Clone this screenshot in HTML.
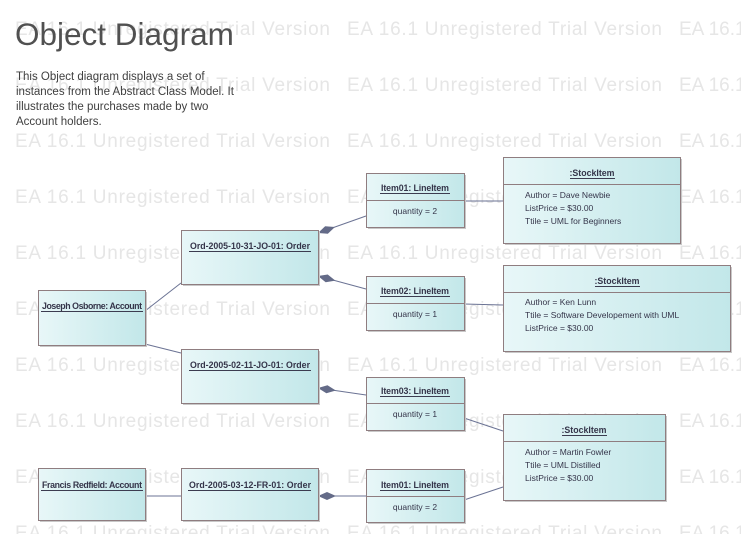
<!DOCTYPE html>
<html><head><meta charset="utf-8"><style>
html,body{margin:0;padding:0;background:#fff;}
svg{display:block;}
.wm{font:19px "Liberation Sans",sans-serif;fill:#e6e6e6;}
.t{font:bold 8.8px "Liberation Sans",sans-serif;fill:#35354a;}
.a{font:8.5px "Liberation Sans",sans-serif;fill:#35354a;}
.b{fill:url(#g);stroke:#8f7d80;stroke-width:1;}
.s{fill:#c8c8c8;}
.l{stroke:#6b7394;stroke-width:1;fill:none;}
.d{fill:#646b88;}
</style></head><body>
<svg width="741" height="534" viewBox="0 0 741 534" xmlns="http://www.w3.org/2000/svg">
<defs><linearGradient id="g" x1="0" x2="1" y1="0" y2="0"><stop offset="0" stop-color="#e8f7f8"/><stop offset="1" stop-color="#c2e7e9"/></linearGradient></defs>
<g class="wm">
<text x="15" y="35" textLength="315">EA 16.1 Unregistered Trial Version</text><text x="347" y="35" textLength="315">EA 16.1 Unregistered Trial Version</text><text x="679" y="35">EA 16.1</text>
<text x="15" y="91" textLength="315">EA 16.1 Unregistered Trial Version</text><text x="347" y="91" textLength="315">EA 16.1 Unregistered Trial Version</text><text x="679" y="91">EA 16.1</text>
<text x="15" y="147" textLength="315">EA 16.1 Unregistered Trial Version</text><text x="347" y="147" textLength="315">EA 16.1 Unregistered Trial Version</text><text x="679" y="147">EA 16.1</text>
<text x="15" y="203" textLength="315">EA 16.1 Unregistered Trial Version</text><text x="347" y="203" textLength="315">EA 16.1 Unregistered Trial Version</text><text x="679" y="203">EA 16.1</text>
<text x="15" y="259" textLength="315">EA 16.1 Unregistered Trial Version</text><text x="347" y="259" textLength="315">EA 16.1 Unregistered Trial Version</text><text x="679" y="259">EA 16.1</text>
<text x="15" y="315" textLength="315">EA 16.1 Unregistered Trial Version</text><text x="347" y="315" textLength="315">EA 16.1 Unregistered Trial Version</text><text x="679" y="315">EA 16.1</text>
<text x="15" y="371" textLength="315">EA 16.1 Unregistered Trial Version</text><text x="347" y="371" textLength="315">EA 16.1 Unregistered Trial Version</text><text x="679" y="371">EA 16.1</text>
<text x="15" y="427" textLength="315">EA 16.1 Unregistered Trial Version</text><text x="347" y="427" textLength="315">EA 16.1 Unregistered Trial Version</text><text x="679" y="427">EA 16.1</text>
<text x="15" y="483" textLength="315">EA 16.1 Unregistered Trial Version</text><text x="347" y="483" textLength="315">EA 16.1 Unregistered Trial Version</text><text x="679" y="483">EA 16.1</text>
<text x="15" y="539" textLength="315">EA 16.1 Unregistered Trial Version</text><text x="347" y="539" textLength="315">EA 16.1 Unregistered Trial Version</text><text x="679" y="539">EA 16.1</text>
</g>
<text x="15" y="45" style="font:31.5px 'Liberation Sans',sans-serif;fill:#505050">Object Diagram</text>
<g style="font:11.5px 'Liberation Sans',sans-serif;fill:#404040">
<text x="16" y="80">This Object diagram displays a set of</text>
<text x="16" y="95">instances from the Abstract Class Model. It</text>
<text x="16" y="110">illustrates the purchases made by two</text>
<text x="16" y="125">Account holders.</text>
</g>
<line class="l" x1="145" y1="311" x2="181" y2="283"/>
<line class="l" x1="145" y1="344" x2="181" y2="353"/>
<line class="l" x1="145" y1="496" x2="181" y2="496"/>
<line class="l" x1="318" y1="233" x2="366" y2="216"/>
<line class="l" x1="318" y1="276" x2="366" y2="289"/>
<line class="l" x1="318" y1="388" x2="366" y2="395"/>
<line class="l" x1="318" y1="496" x2="366" y2="496"/>
<line class="l" x1="464" y1="201" x2="503" y2="201"/>
<line class="l" x1="464" y1="304" x2="503" y2="305"/>
<line class="l" x1="464" y1="418" x2="503" y2="431"/>
<line class="l" x1="464" y1="500" x2="503" y2="487"/>
<g class="d">
<polygon points="0,0 9,-4 18,0 9,4" transform="translate(318,233) rotate(-19.5)"/>
<polygon points="0,0 9,-4 18,0 9,4" transform="translate(318,276) rotate(15)"/>
<polygon points="0,0 9,-4 18,0 9,4" transform="translate(318,388) rotate(8)"/>
<polygon points="0,0 9,-4 18,0 9,4" transform="translate(318,496)"/>
</g>
<g class="s">
<rect x="40" y="292" width="107" height="55"/><rect x="183" y="232" width="137" height="54"/>
<rect x="368" y="175" width="98" height="54"/><rect x="368" y="278" width="98" height="54"/>
<rect x="505" y="159" width="177" height="86"/><rect x="505" y="267" width="227" height="86"/>
<rect x="183" y="351" width="137" height="54"/><rect x="368" y="379" width="98" height="53"/>
<rect x="505" y="416" width="162" height="86"/><rect x="40" y="470" width="107" height="52"/>
<rect x="183" y="470" width="137" height="52"/><rect x="368" y="471" width="98" height="53"/>
</g>
<rect class="b" x="38.5" y="290.5" width="107" height="55"/>
<text class="t" x="92" y="309" text-anchor="middle" textLength="100">Joseph Osborne: Account</text><line x1="41" y1="311.5" x2="143" y2="311.5" stroke="#3c3c50"/>
<rect class="b" x="181.5" y="230.5" width="137" height="54"/>
<text class="t" x="250" y="249" text-anchor="middle" textLength="120">Ord-2005-10-31-JO-01: Order</text><line x1="189" y1="251.5" x2="311" y2="251.5" stroke="#3c3c50"/>
<rect class="b" x="181.5" y="349.5" width="137" height="54"/>
<text class="t" x="250" y="368" text-anchor="middle" textLength="120">Ord-2005-02-11-JO-01: Order</text><line x1="189" y1="370.5" x2="311" y2="370.5" stroke="#3c3c50"/>
<rect class="b" x="38.5" y="468.5" width="107" height="52"/>
<text class="t" x="92" y="488" text-anchor="middle" textLength="100">Francis Redfield: Account</text><line x1="41" y1="490.5" x2="143" y2="490.5" stroke="#3c3c50"/>
<rect class="b" x="181.5" y="468.5" width="137" height="52"/>
<text class="t" x="250" y="488" text-anchor="middle" textLength="122">Ord-2005-03-12-FR-01: Order</text><line x1="188" y1="490.5" x2="311" y2="490.5" stroke="#3c3c50"/>
<rect class="b" x="366.5" y="173.5" width="98" height="54"/><line x1="366" y1="200.5" x2="464" y2="200.5" stroke="#8f7d80"/>
<text class="t" x="415" y="191" text-anchor="middle" textLength="68">Item01: LineItem</text><line x1="380" y1="193.5" x2="450" y2="193.5" stroke="#3c3c50"/>
<text class="a" x="415" y="214" text-anchor="middle">quantity = 2</text>
<rect class="b" x="366.5" y="276.5" width="98" height="54"/><line x1="366" y1="303.5" x2="464" y2="303.5" stroke="#8f7d80"/>
<text class="t" x="415" y="294" text-anchor="middle" textLength="68">Item02: LineItem</text><line x1="380" y1="296.5" x2="450" y2="296.5" stroke="#3c3c50"/>
<text class="a" x="415" y="317" text-anchor="middle">quantity = 1</text>
<rect class="b" x="366.5" y="377.5" width="98" height="53"/><line x1="366" y1="403.5" x2="464" y2="403.5" stroke="#8f7d80"/>
<text class="t" x="415" y="394" text-anchor="middle" textLength="68">Item03: LineItem</text><line x1="380" y1="396.5" x2="450" y2="396.5" stroke="#3c3c50"/>
<text class="a" x="415" y="417" text-anchor="middle">quantity = 1</text>
<rect class="b" x="366.5" y="469.5" width="98" height="53"/><line x1="366" y1="496.5" x2="464" y2="496.5" stroke="#8f7d80"/>
<text class="t" x="415" y="488" text-anchor="middle" textLength="68">Item01: LineItem</text><line x1="380" y1="490.5" x2="450" y2="490.5" stroke="#3c3c50"/>
<text class="a" x="415" y="510" text-anchor="middle">quantity = 2</text>
<rect class="b" x="503.5" y="157.5" width="177" height="86"/><line x1="503" y1="184.5" x2="680" y2="184.5" stroke="#8f7d80"/>
<text class="t" x="592" y="176" text-anchor="middle">:StockItem</text><line x1="570" y1="178.5" x2="615" y2="178.5" stroke="#3c3c50"/>
<text class="a" x="525" y="198">Author = Dave Newbie</text>
<text class="a" x="525" y="211">ListPrice = $30.00</text>
<text class="a" x="525" y="224">Ttile = UML for Beginners</text>
<rect class="b" x="503.5" y="265.5" width="227" height="86"/><line x1="503" y1="292.5" x2="730" y2="292.5" stroke="#8f7d80"/>
<text class="t" x="617" y="284" text-anchor="middle">:StockItem</text><line x1="595" y1="286.5" x2="640" y2="286.5" stroke="#3c3c50"/>
<text class="a" x="525" y="305">Author = Ken Lunn</text>
<text class="a" x="525" y="318">Ttile = Software Developement with UML</text>
<text class="a" x="525" y="331">ListPrice = $30.00</text>
<rect class="b" x="503.5" y="414.5" width="162" height="86"/><line x1="503" y1="441.5" x2="665" y2="441.5" stroke="#8f7d80"/>
<text class="t" x="584" y="433" text-anchor="middle">:StockItem</text><line x1="562" y1="435.5" x2="607" y2="435.5" stroke="#3c3c50"/>
<text class="a" x="525" y="455">Author = Martin Fowler</text>
<text class="a" x="525" y="468">Ttile = UML Distilled</text>
<text class="a" x="525" y="481">ListPrice = $30.00</text>
</svg>
</body></html>
